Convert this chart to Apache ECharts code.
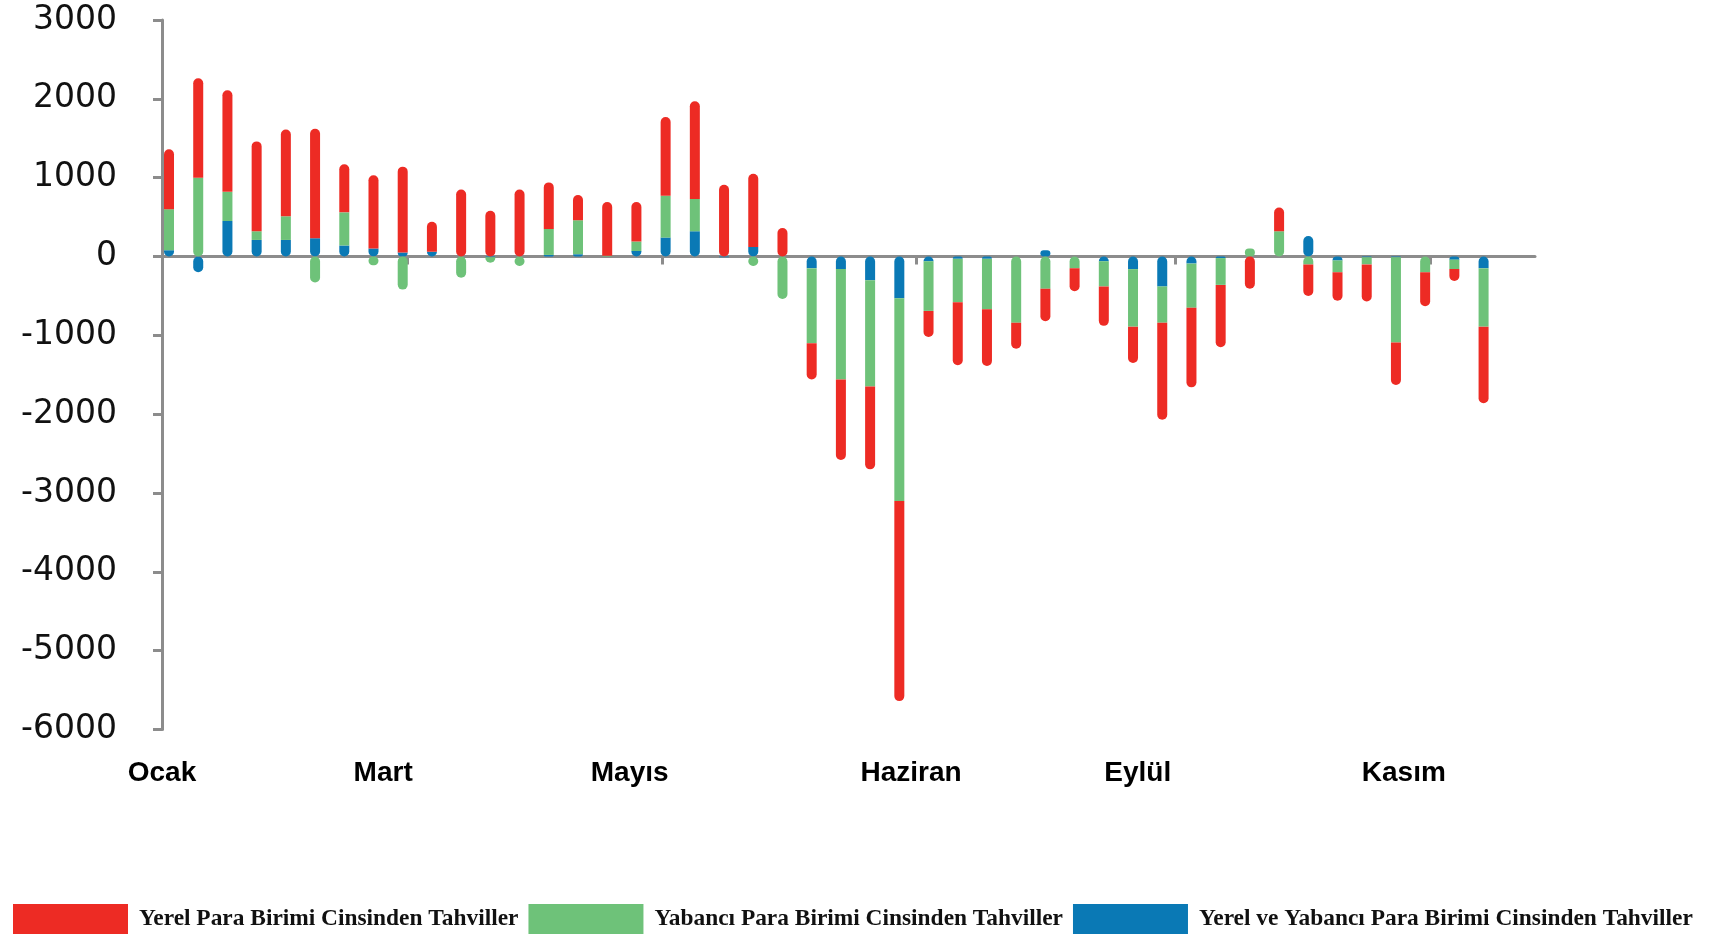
<!DOCTYPE html>
<html>
<head>
<meta charset="utf-8">
<title>Tahvil akımları</title>
<script src="https://cdn.jsdelivr.net/npm/echarts@6/dist/echarts.min.js"></script>
<style>
    html, body { margin: 0; padding: 0; background: #fff; }
    #chart { width: 1717px; height: 936px; }
</style>
</head>
<body>
<div id="chart"></div>
<script>
// haftalar (son slot boş)
var weeks = ['1', '2', '3', '4', '5', '6', '7', '8', '9', '10', '11', '12', '13', '14', '15', '16',
    '17', '18', '19', '20', '21', '22', '23', '24', '25', '26', '27', '28', '29', '30', '31', '32',
    '33', '34', '35', '36', '37', '38', '39', '40', '41', '42', '43', '44', '45', '46', '47'];

// Yerel Para Birimi Cinsinden Tahviller
var yerel = [760, 1260, 1290, 1140, 1100, 1390, 610, 930, 1090, 380, 850, 580, 850,
    590, 320, 680, 500, 1000, 1240, 910, 930, 360, -460, -1020, -1050, -2540,
    -330, -800, -720, -330, -410, -290, -500, -460, -1230, -1010, -790, -410,
    300, -400, -360, -470, -540, -430, -150, -970];

// Yabancı Para Birimi Cinsinden Tahviller
var yabanci = [520, 1000, 370, 110, 300, -330, 420, -110, -420, 0, -270, -70, -120,
    330, 430, 10, 120, 530, 410, 0, -120, -540, -950, -1400, -1350, -2570,
    -630, -550, -640, -840, -410, -150, -320, -730, -460, -560, -340, 100,
    320, -100, -150, -90, -1080, -200, -120, -740];

// Yerel ve Yabancı Para Birimi Cinsinden Tahviller
var ikisi = [80, -200, 450, 210, 210, 230, 140, 100, 50, 60, 0, -10, 0,
    20, 30, 0, 70, 240, 320, -10, 120, 0, -150, -160, -300, -530,
    -60, -30, -30, 0, 80, 0, -60, -160, -380, -90, -20, 0,
    0, 260, -50, -10, -10, 0, -40, -150];

// ay etiketleri ve eksen çentikleri (hafta ekseni üzerindeki konumları)
var monthNames = ['Ocak', 'Mart', 'Mayıs', 'Haziran', 'Eylül', 'Kasım'];
var monthPos = [-0.5, 7.07, 15.51, 25.14, 32.9, 42.01];
var tickPos = [7.89, 16.64, 25.33, 34.19, 42.9];

var names = ['Yerel Para Birimi Cinsinden Tahviller',
    'Yabancı Para Birimi Cinsinden Tahviller',
    'Yerel ve Yabancı Para Birimi Cinsinden Tahviller'];
var colors = ['#ED2B24', '#6EC279', '#0A79B5'];
var axisGray = '#8c8c8c';

// yığın sırası: sıfıra en yakın olan önce
var stackOrder = [ikisi, yabanci, yerel];
var R = 5;

// her çubuğun yalnızca uç kısımları yuvarlak olsun
var roundData = function(k) {
    var res = [];
    var data = stackOrder[k];
    for (var i = 0; i < data.length; i++) {
        var v = data[i];
        var first = true, last = true;
        for (var j = 0; j < stackOrder.length; j++) {
            var w = stackOrder[j][i];
            if (w === 0 || (w > 0) !== (v > 0)) continue;
            if (j < k) first = false;
            if (j > k) last = false;
        }
        var outer = last ? R : 0;
        var inner = first ? R : 0;
        // [sol-üst, sağ-üst, sağ-alt, sol-alt]
        var r = v >= 0 ? [outer, outer, inner, inner] : [inner, inner, outer, outer];
        res.push({ value: v, itemStyle: { borderRadius: r } });
    }
    return res;
};

function barSeries(name, k, color) {
    return {
        name: name,
        type: 'bar',
        stack: 'toplam',
        barWidth: 10,
        barGap: '52%',
        itemStyle: { color: color },
        data: roundData(k)
    };
}

var chart = echarts.init(document.getElementById('chart'));
var option = {
    animation: false,
    backgroundColor: '#fff',
    grid: {
        left: 162,
        right: 182,
        top: 20,
        bottom: 206.5,
        containLabel: false
    },
    legend: {
        data: names,
        left: 13,
        top: 904,
        width: 1704,
        padding: 0,
        icon: 'rect',
        itemWidth: 115,
        itemHeight: 30,
        itemGap: 10,
        textStyle: {
            fontFamily: 'Liberation Serif',
            fontWeight: 'bold',
            fontSize: 23.4,
            color: '#111',
            padding: [0, 0, 0, 6]
        }
    },
    xAxis: [{
        // haftalık kategori ekseni, sıfır çizgisi
        type: 'category',
        data: weeks,
        axisLine: { onZero: true, lineStyle: { color: axisGray, width: 3 } },
        axisTick: { show: false },
        axisLabel: { show: false }
    }, {
        // ay etiketleri
        type: 'value',
        min: -0.5,
        max: weeks.length - 0.5,
        position: 'bottom',
        axisLine: { show: false, onZero: false },
        axisTick: { show: false },
        splitLine: { show: false },
        axisLabel: {
            customValues: monthPos,
            margin: 30,
            fontFamily: 'Liberation Sans',
            fontWeight: 'bold',
            fontSize: 28,
            color: '#000',
            formatter: function(v) {
                for (var i = 0; i < monthPos.length; i++) {
                    if (Math.abs(v - monthPos[i]) < 0.001) return monthNames[i];
                }
                return '';
            }
        }
    }, {
        // sıfır çizgisindeki çentikler
        type: 'value',
        min: -0.5,
        max: weeks.length - 0.5,
        position: 'bottom',
        axisLine: { show: false, onZero: true, onZeroAxisIndex: 0 },
        axisTick: {
            show: true,
            customValues: tickPos,
            length: 8,
            lineStyle: { color: axisGray, width: 3 }
        },
        axisLabel: { show: false },
        splitLine: { show: false }
    }],
    yAxis: {
        type: 'value',
        min: -6000,
        max: 3000,
        interval: 1000,
        axisLine: { show: true, onZero: false, lineStyle: { color: axisGray, width: 3 } },
        axisTick: { show: true, length: 9, lineStyle: { color: axisGray, width: 3 } },
        splitLine: { show: false },
        axisLabel: {
            margin: 45,
            fontFamily: 'DejaVu Sans',
            fontSize: 33,
            color: '#111',
            formatter: function(v) { return String(v); }
        }
    },
    series: [
        barSeries(names[2], 0, colors[2]),
        barSeries(names[1], 1, colors[1]),
        barSeries(names[0], 2, colors[0]),
        // boş grup: çubukları slotun soluna kaydırır
        { type: 'bar', stack: 'bos', barWidth: 10, barGap: '52%', data: [] }
    ]
};
chart.setOption(option);
window.onresize = chart.resize;
</script>
</body>
</html>
